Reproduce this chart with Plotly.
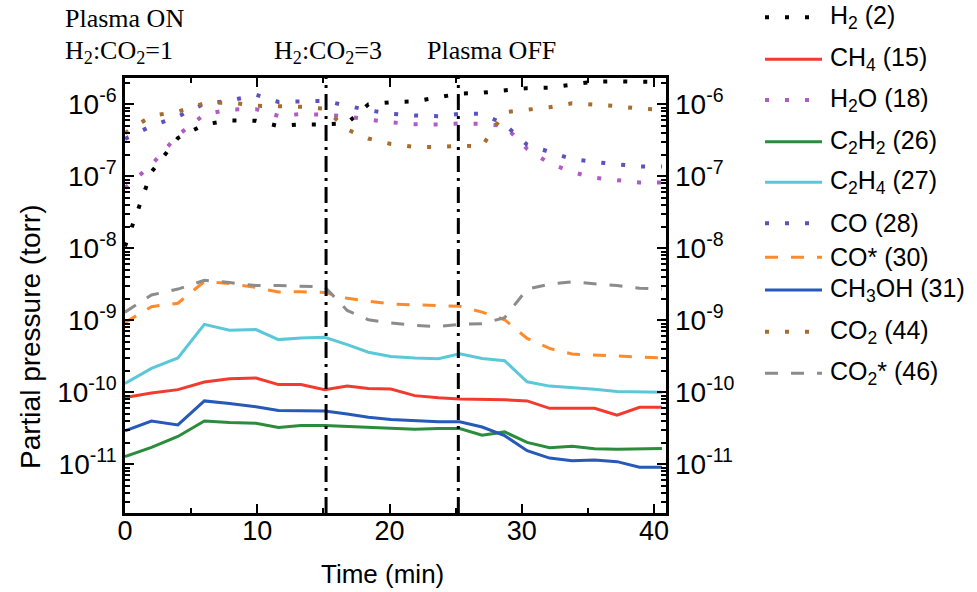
import plotly.graph_objects as go

# ---- data: partial pressures (torr) versus time (min) ----
time_min = [0, 2.0, 4.0, 6.0, 7.9, 9.9, 11.6, 13.3, 15.1, 16.8, 18.4, 20.1,
            21.9, 23.7, 25.3, 27.0, 28.7, 30.4, 32.1, 33.8, 35.5, 37.2, 38.9, 40.6]

h2 = [1.07e-8, 1.15e-7, 3.4e-7, 5.25e-7, 6.0e-7, 5.9e-7, 5.0e-7, 5.25e-7,
      5.25e-7, 5.5e-7, 1.0e-6, 1.07e-6, 1.1e-6, 1.26e-6, 1.41e-6, 1.45e-6,
      1.55e-6, 1.68e-6, 1.71e-6, 1.86e-6, 2.07e-6, 2.09e-6, 2.04e-6, 2.04e-6]
ch4 = [8.5e-11, 9.8e-11, 1.09e-10, 1.39e-10, 1.54e-10, 1.58e-10, 1.28e-10, 1.28e-10,
       1.09e-10, 1.22e-10, 1.13e-10, 1.11e-10, 9.0e-11, 8.4e-11, 8.1e-11, 8.0e-11,
       7.9e-11, 7.6e-11, 6.0e-11, 6.0e-11, 6.0e-11, 4.8e-11, 6.2e-11, 6.2e-11]
h2o = [6.84e-8, 1.45e-7, 3.72e-7, 7.24e-7, 8.5e-7, 8.57e-7, 6.9e-7, 7.33e-7,
       7.16e-7, 6.76e-7, 6.17e-7, 5.62e-7, 5.31e-7, 5.25e-7, 5.43e-7, 5.37e-7,
       5.01e-7, 2.4e-7, 1.51e-7, 1.15e-7, 9.55e-8, 8.81e-8, 8.22e-8, 8.22e-8]
c2h2 = [1.28e-11, 1.72e-11, 2.44e-11, 4.0e-11, 3.8e-11, 3.72e-11, 3.25e-11, 3.45e-11,
        3.45e-11, 3.34e-11, 3.3e-11, 3.14e-11, 3.08e-11, 3.14e-11, 3.14e-11, 2.54e-11,
        2.82e-11, 2.02e-11, 1.7e-11, 1.78e-11, 1.65e-11, 1.62e-11, 1.65e-11, 1.66e-11]
c2h4 = [1.33e-10, 2.15e-10, 3.0e-10, 8.8e-10, 7.3e-10, 7.45e-10, 5.4e-10, 5.7e-10,
        5.8e-10, 4.6e-10, 3.6e-10, 3.15e-10, 3.0e-10, 2.92e-10, 3.42e-10, 2.96e-10,
        2.75e-10, 1.4e-10, 1.22e-10, 1.17e-10, 1.1e-10, 1.03e-10, 1.01e-10, 1.0e-10]
co = [3.31e-7, 5.0e-7, 6.76e-7, 1.02e-6, 1.12e-6, 1.36e-6, 1.08e-6, 1.11e-6,
      1.12e-6, 9.55e-7, 8.3e-7, 7.41e-7, 7.0e-7, 6.84e-7, 7.41e-7, 7.41e-7,
      5.25e-7, 2.75e-7, 2.19e-7, 1.74e-7, 1.58e-7, 1.46e-7, 1.37e-7, 1.37e-7]
co_star = [9.3e-10, 1.55e-9, 1.73e-9, 3.46e-9, 3.25e-9, 2.86e-9, 2.47e-9, 2.5e-9,
           2.44e-9, 2.02e-9, 1.84e-9, 1.69e-9, 1.64e-9, 1.59e-9, 1.57e-9, 1.3e-9,
           1.02e-9, 5.6e-10, 4.07e-10, 3.4e-10, 3.3e-10, 3.19e-10, 3.06e-10, 3.0e-10]
ch3oh = [2.92e-11, 4.0e-11, 3.52e-11, 7.6e-11, 7.0e-11, 6.3e-11, 5.6e-11, 5.6e-11,
         5.5e-11, 5.0e-11, 4.5e-11, 4.2e-11, 4.05e-11, 3.9e-11, 3.9e-11, 3.3e-11,
         2.5e-11, 1.55e-11, 1.22e-11, 1.12e-11, 1.15e-11, 1.09e-11, 9.1e-12, 9.1e-12]
co2 = [3.98e-7, 6.92e-7, 7.94e-7, 1.035e-6, 1.06e-6, 9.55e-7, 9.44e-7, 9.23e-7,
       8.71e-7, 4.47e-7, 3.35e-7, 2.82e-7, 2.57e-7, 2.54e-7, 2.66e-7, 2.63e-7,
       7.76e-7, 8.41e-7, 9.12e-7, 1.035e-6, 1.0e-6, 9.44e-7, 8.71e-7, 8.41e-7]
co2_star = [1.3e-9, 2.25e-9, 2.72e-9, 3.6e-9, 3.35e-9, 3.04e-9, 3.04e-9, 2.98e-9,
            2.92e-9, 1.37e-9, 1.02e-9, 9.2e-10, 8.5e-10, 8.2e-10, 8.8e-10, 8.97e-10,
            1.09e-9, 2.72e-9, 3.18e-9, 3.42e-9, 3.25e-9, 3.04e-9, 2.8e-9, 2.72e-9]

labels = ["H<sub>2</sub> (2)", "CH<sub>4</sub> (15)", "H<sub>2</sub>O (18)",
          "C<sub>2</sub>H<sub>2</sub> (26)", "C<sub>2</sub>H<sub>4</sub> (27)", "CO (28)",
          "CO* (30)", "CH<sub>3</sub>OH (31)", "CO<sub>2</sub> (44)", "CO<sub>2</sub>* (46)"]
series = [h2, ch4, h2o, c2h2, c2h4, co, co_star, ch3oh, co2, co2_star]

event_times = [15.2, 25.2]
event_texts = ["H<sub>2</sub>:CO<sub>2</sub>=3", "Plasma OFF"]
start_texts = ["Plasma ON", "H<sub>2</sub>:CO<sub>2</sub>=1"]

decades = [-11, -10, -9, -8, -7, -6]
tick_vals = [10.0 ** d for d in decades]
tick_text = ["10<sup>%d</sup>" % d for d in decades]
minor_vals = [m * 10.0 ** e for e in range(-12, -5) for m in range(2, 10)]

# ---- styles ----
DOT = "4px,16px"
DASH = "13px,13px"
styles = [
    dict(color="#000000", width=4, dash=DOT),
    dict(color="#f23a2f", width=3, dash="solid"),
    dict(color="#b05cc4", width=4, dash=DOT),
    dict(color="#2a8c3c", width=3, dash="solid"),
    dict(color="#5ac8d8", width=3, dash="solid"),
    dict(color="#5b52c0", width=4, dash=DOT),
    dict(color="#ff8a2a", width=3, dash=DASH),
    dict(color="#2659b8", width=3, dash="solid"),
    dict(color="#a86c2c", width=4, dash=DOT),
    dict(color="#8c8c8c", width=3, dash=DASH),
]

W, H = 977, 592
PL, PR, PT, PB = 125, 666, 78, 513


def px(x):
    return (x - PL) / (PR - PL)


def py(y):
    return (PB - y) / (PB - PT)


SANS = "Liberation Sans, Arial, sans-serif"
SERIF = "Liberation Serif, Times New Roman, serif"

fig = go.Figure()
for name, vals, st in zip(labels, series, styles):
    fig.add_trace(go.Scatter(x=time_min, y=vals, mode="lines", name=name,
                             line=st, showlegend=False, hoverinfo="skip"))

# carrier trace for the right-hand axis
fig.add_trace(go.Scatter(x=time_min, y=ch4, yaxis="y2", mode="lines",
                         line=dict(width=1, color="rgba(0,0,0,0)"),
                         showlegend=False, hoverinfo="skip"))

shapes = []
for t in event_times:
    shapes.append(dict(type="line", xref="x", yref="paper", x0=t, x1=t, y0=0, y1=1,
                       line=dict(color="black", width=3, dash="16px,6px,3px,6px"),
                       layer="above"))

annotations = []
# legend drawn beside the plot
legend_rows = [17.3, 59.3, 100, 141.7, 182.3, 223.3, 257.3, 290, 331.7, 373.3]
for name, st, yc in zip(labels, styles, legend_rows):
    shapes.append(dict(type="line", xref="paper", yref="paper",
                       x0=px(765), x1=px(822), y0=py(yc), y1=py(yc),
                       line=st))
    annotations.append(dict(text=name, xref="paper", yref="paper", x=px(828), y=py(yc),
                            xanchor="left", yanchor="middle", showarrow=False,
                            font=dict(family=SANS, size=25, color="black")))

# process annotations above the plot
annotations.append(dict(text=start_texts[0], xref="paper", yref="paper", x=px(64), y=py(34),
                        xanchor="left", yanchor="bottom", showarrow=False, borderpad=0,
                        font=dict(family=SERIF, size=26, color="black")))
annotations.append(dict(text=start_texts[1], xref="paper", yref="paper", x=px(64), y=py(35),
                        xanchor="left", yanchor="top", showarrow=False, borderpad=0,
                        font=dict(family=SERIF, size=26, color="black")))
for t, txt, left in zip(event_times, event_texts, [273, 426]):
    annotations.append(dict(text=txt, xref="paper", yref="paper", x=px(left), y=py(35),
                            xanchor="left", yanchor="top", showarrow=False, borderpad=0,
                            font=dict(family=SERIF, size=26, color="black")))

# axis titles
annotations.append(dict(text="Partial pressure (torr)", xref="paper", yref="paper",
                        x=px(30), y=py(337), textangle=-90, showarrow=False,
                        xanchor="center", yanchor="middle",
                        font=dict(family=SANS, size=28, color="black")))
annotations.append(dict(text="Time (min)", xref="paper", yref="paper",
                        x=px(382), y=py(574), showarrow=False,
                        xanchor="center", yanchor="middle",
                        font=dict(family=SANS, size=26, color="black")))

axis_common = dict(showline=True, linecolor="black", linewidth=2.5, showgrid=False,
                   zeroline=False, ticks="inside", tickcolor="black", tickwidth=2)

fig.update_layout(
    width=W, height=H,
    margin=dict(l=PL, r=W - PR, t=PT, b=H - PB),
    paper_bgcolor="white", plot_bgcolor="white",
    showlegend=False,
    xaxis=dict(range=[0, 40.9], tickvals=[0, 10, 20, 30, 40], ticklen=9,
               mirror="ticks", ticklabelstandoff=-8,
               tickfont=dict(family=SANS, size=27, color="black"),
               minor=dict(tickvals=[5, 15, 25, 35], ticks="inside", ticklen=5,
                          tickwidth=2, tickcolor="black"),
               **axis_common),
    yaxis=dict(type="log", range=[-11.676, -5.634], tickvals=tick_vals,
               ticktext=tick_text, ticklen=9, mirror="ticks",
               tickfont=dict(family=SANS, size=28, color="black"),
               minor=dict(tickvals=minor_vals, ticks="inside", ticklen=5,
                          tickwidth=1.5, tickcolor="black"),
               **axis_common),
    yaxis2=dict(type="log", range=[-11.676, -5.634], tickvals=tick_vals,
                ticktext=tick_text, overlaying="y", side="right",
                showline=False, showgrid=False, zeroline=False, ticks="",
                ticklabelstandoff=8,
                tickfont=dict(family=SANS, size=28, color="black")),
    shapes=shapes,
    annotations=annotations,
)

fig.write_html("out.html")
